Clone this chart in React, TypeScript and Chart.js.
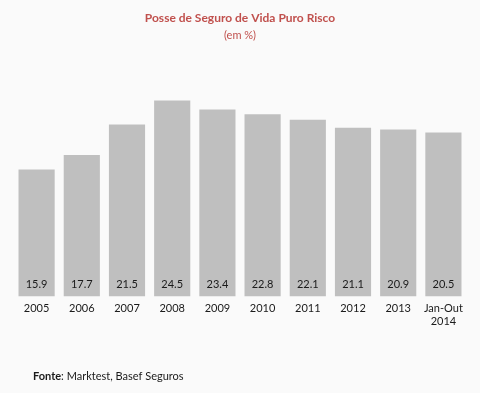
import React, { useEffect, useRef } from "react";
import { Chart, registerables } from "chart.js";

Chart.register(...registerables);

const categories: (string | string[])[] = ["2005", "2006", "2007", "2008", "2009", "2010", "2011", "2012", "2013", ["Jan-Out", "2014"]];
const values: number[] = [15.9, 17.7, 21.5, 24.5, 23.4, 22.8, 22.1, 21.1, 20.9, 20.5];
const titleText = "Posse de Seguro de Vida Puro Risco";
const subtitleText = "(em %)";
const sourceLabel = "Fonte";
const sourceText = ": Marktest, Basef Seguros";

const FONT = "Lato, 'Open Sans', sans-serif";

const valueLabels = {
  id: "valueLabels",
  afterDatasetsDraw(chart: any) {
    const ctx = chart.ctx;
    const meta = chart.getDatasetMeta(0);
    ctx.save();
    ctx.font = `11px ${FONT}`;
    ctx.fillStyle = "#1a1a1a";
    ctx.textAlign = "center";
    ctx.textBaseline = "middle";
    meta.data.forEach((bar: any, i: number) => {
      ctx.fillText(values[i].toFixed(1), bar.x, chart.chartArea.bottom - 12);
    });
    ctx.restore();
  },
};

const footnote = {
  id: "footnote",
  afterDraw(chart: any) {
    const ctx = chart.ctx;
    ctx.save();
    ctx.textBaseline = "middle";
    ctx.textAlign = "left";
    ctx.fillStyle = "#1a1a1a";
    ctx.font = `bold 11px ${FONT}`;
    const x = 33;
    const y = 376;
    ctx.fillText(sourceLabel, x, y);
    const w = ctx.measureText(sourceLabel).width;
    ctx.font = `11px ${FONT}`;
    ctx.fillText(sourceText, x + w, y);
    ctx.restore();
  },
};

export default function App() {
  const ref = useRef<HTMLCanvasElement | null>(null);
  useEffect(() => {
    if (!ref.current) return;
    const chart = new Chart(ref.current, {
      type: "bar",
      data: {
        labels: categories,
        datasets: [
          {
            data: values,
            backgroundColor: "#bfbfbf",
            borderWidth: 0,
            barPercentage: 0.8,
            categoryPercentage: 1,
          },
        ],
      },
      options: {
        responsive: false,
        animation: false,
        layout: { padding: { left: 14, right: 14, top: 0, bottom: 60 } },
        plugins: {
          legend: { display: false },
          tooltip: { enabled: false },
          title: {
            display: true,
            text: titleText,
            color: "#c0504d",
            font: { family: FONT, size: 12, weight: "bold" },
            padding: { top: 11, bottom: 0 },
          },
          subtitle: {
            display: true,
            text: subtitleText,
            color: "#c0504d",
            font: { family: FONT, size: 11 },
            padding: { top: 3, bottom: 15 },
          },
        },
        scales: {
          x: {
            grid: { display: false, drawTicks: false },
            border: { display: false },
            ticks: { color: "#1a1a1a", font: { family: FONT, size: 11 }, padding: 5, maxRotation: 0, autoSkip: false },
          },
          y: {
            display: false,
            min: 0,
            max: 30,
          },
        },
      },
      plugins: [valueLabels, footnote],
    });
    return () => chart.destroy();
  }, []);
  return (
    <div style={{ position: "fixed", left: 0, top: 0, width: 480, height: 393, background: "#fafafa" }}>
      <canvas ref={ref} width={480} height={393} style={{ display: "block" }} />
    </div>
  );
}
